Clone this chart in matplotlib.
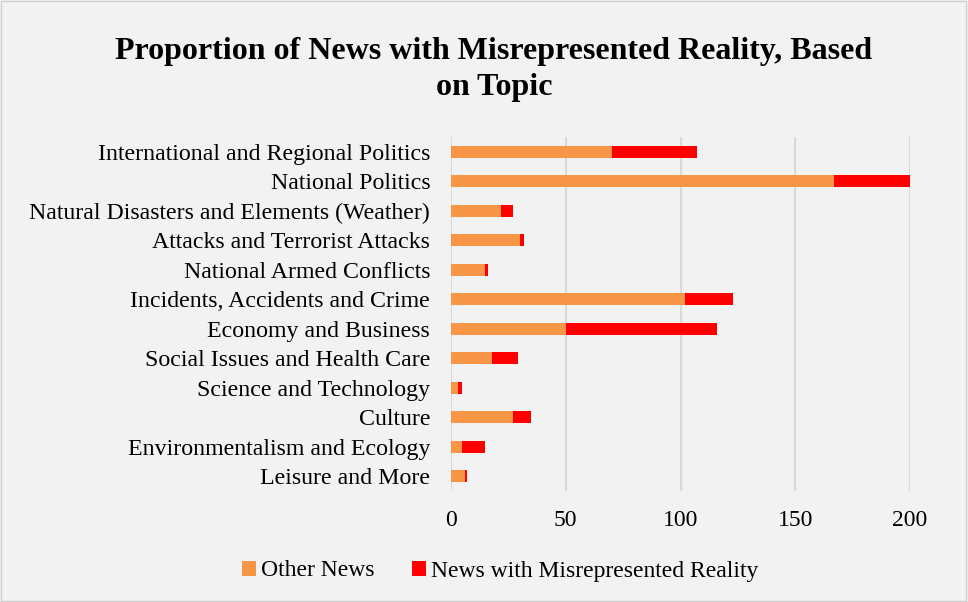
import numpy as np
import matplotlib.pyplot as plt
from matplotlib.patches import Rectangle

plt.rcParams['font.family'] = ['Liberation Serif', 'DejaVu Serif']

topics = ["International and Regional Politics", "National Politics",
          "Natural Disasters and Elements (Weather)", "Attacks and Terrorist Attacks",
          "National Armed Conflicts", "Incidents, Accidents and Crime",
          "Economy and Business", "Social Issues and Health Care",
          "Science and Technology", "Culture", "Environmentalism and Ecology",
          "Leisure and More"]
other_news = [70, 167, 22, 30, 15, 102, 50, 18, 3, 27, 5, 6]
misrepresented = [37, 33, 5, 2, 1, 21, 66, 11, 2, 8, 10, 1]
ticks = [0, 50, 100, 150, 200]

bg = "#f2f2f2"
fig = plt.figure(figsize=(9.68, 6.02), dpi=100, facecolor=bg)
fig.patches.append(Rectangle((0.001, 0.001), 0.997, 0.997, transform=fig.transFigure,
                             fill=False, edgecolor="#d0d0d0", linewidth=1))
ax = fig.add_axes([451 / 968, 1 - 491 / 602, (910 - 451) / 968, (491 - 137) / 602])
ax.set_facecolor(bg)

y = np.arange(len(topics))
ax.barh(y, other_news, height=0.42, color="#f79646", label="Other News")
ax.barh(y, misrepresented, left=other_news, height=0.42, color="#ff0000",
        label="News with Misrepresented Reality")

ax.set_ylim(len(topics) - 0.5, -0.5)
ax.set_xlim(0, 200)
ax.set_xticks(ticks)
ax.set_yticks(y)
ax.set_yticklabels(topics, fontsize=17.2)
ax.tick_params(axis='x', labelsize=17, length=0, pad=14)
ax.tick_params(axis='y', length=0, pad=15)
ax.grid(axis='x', color="#d9d9d9", linewidth=1.5)
ax.set_axisbelow(True)
for s in ax.spines.values():
    s.set_visible(False)

fig.suptitle("Proportion of News with Misrepresented Reality, Based\non Topic",
             x=494 / 968, y=1 - 37 / 602, fontsize=23, fontweight='bold', linespacing=1.3)

fig.legend(loc='center', bbox_to_anchor=(500 / 968, 1 - 571 / 602), ncol=2, frameon=False,
           fontsize=17, handlelength=0.6, handleheight=0.6, handletextpad=0.2,
           columnspacing=1.6)

fig.savefig("out.png", dpi=100, facecolor=bg)
